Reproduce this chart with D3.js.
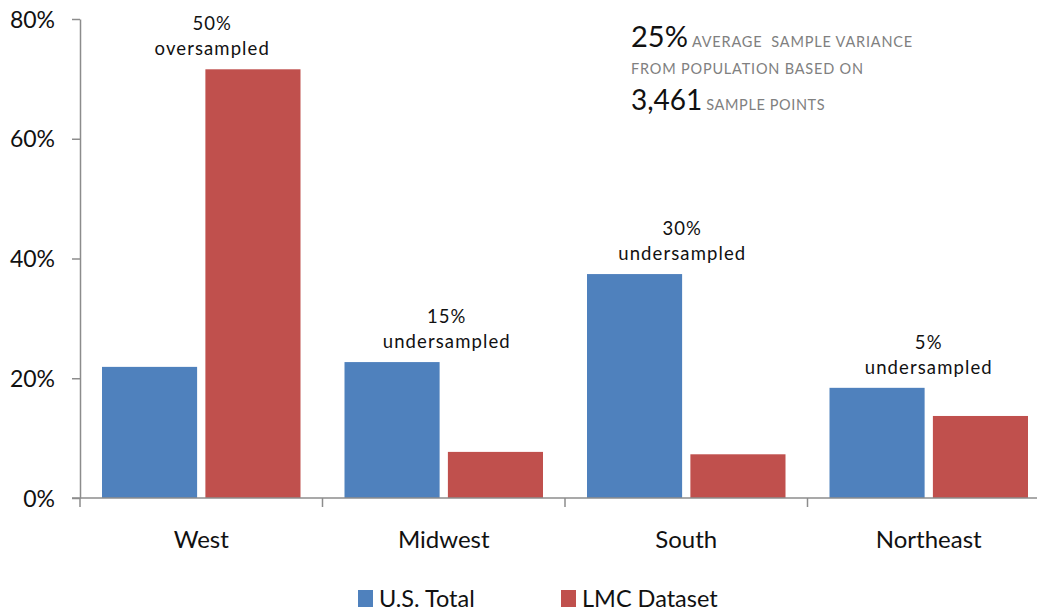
<!DOCTYPE html>
<html>
<head>
<meta charset="utf-8">
<script src="https://cdn.jsdelivr.net/npm/d3@7"></script>
<style>
  html, body { margin: 0; padding: 0; background: #fff; }
  svg { display: block; font-family: Lato, "Open Sans", sans-serif; }
  svg text { white-space: pre; }
</style>
</head>
<body>
<svg id="chart" width="1037" height="613"></svg>
<script>
const categories = ["West", "Midwest", "South", "Northeast"];
const seriesNames = ["U.S. Total", "LMC Dataset"];
const usTotal = [21.9, 22.7, 37.4, 18.4];
const lmcDataset = [71.6, 7.7, 7.3, 13.7];
const annotPct = ["50%", "15%", "30%", "5%"];
const annotText = ["oversampled", "undersampled", "undersampled", "undersampled"];
const yTicks = [0, 20, 40, 60, 80];
const colors = ["#4F81BD", "#C0504D"];

const svg = d3.select("#chart");
const mLeft = 80, mRight = 1050, mTop = 19, mBottom = 498;

const x = d3.scaleBand().domain(categories).range([mLeft, mRight]).paddingInner(0).paddingOuter(0);
const inner = d3.scaleBand().domain(seriesNames).range([22, x.bandwidth() - 22]).paddingInner(0.08);
const y = d3.scaleLinear().domain([0, 80]).range([mBottom, mTop]);

const data = categories.map((c, i) => ({ cat: c, vals: [usTotal[i], lmcDataset[i]] }));

// bars
const g = svg.append("g");
data.forEach(d => {
  d.vals.forEach((v, j) => {
    g.append("rect")
      .attr("x", x(d.cat) + inner(seriesNames[j]))
      .attr("y", y(v))
      .attr("width", inner.bandwidth())
      .attr("height", y(0) - y(v))
      .attr("fill", colors[j]);
  });
});

// y axis
const yAxis = d3.axisLeft(y).tickValues(yTicks).tickFormat(d => d + "%").tickSize(8).tickSizeOuter(0);
const ya = svg.append("g").attr("transform", `translate(${mLeft},0)`).call(yAxis);
ya.select(".domain").attr("stroke", "#8c8c8c").attr("stroke-width", 1.5);
ya.selectAll(".tick line").attr("stroke", "#8c8c8c").attr("stroke-width", 1.5);
ya.selectAll(".tick text").attr("font-size", 23).attr("fill", "#111").attr("x", -25).attr("dy", "0.35em")
  .style("font-family", "Lato, sans-serif");

// x axis line
svg.append("line").attr("x1", 72).attr("x2", 1037).attr("y1", mBottom).attr("y2", mBottom)
  .attr("stroke", "#8c8c8c").attr("stroke-width", 1.5);
// category boundary ticks
categories.forEach(c => {
  svg.append("line").attr("x1", x(c)).attr("x2", x(c)).attr("y1", mBottom).attr("y2", mBottom + 9)
    .attr("stroke", "#8c8c8c").attr("stroke-width", 1.5);
});
// category labels
categories.forEach(c => {
  svg.append("text").attr("x", x(c) + x.bandwidth() / 2).attr("y", 548)
    .attr("text-anchor", "middle").attr("font-size", 24).attr("fill", "#111").text(c);
});

// annotations
const dxs = [11, 3, -4, 0];
data.forEach((d, i) => {
  const cx = x(d.cat) + x.bandwidth() / 2 + dxs[i];
  const topY = y(d3.max(d.vals));
  svg.append("text").attr("x", cx).attr("y", topY - 39).attr("text-anchor", "middle")
    .attr("font-size", 18.5).attr("letter-spacing", 1.1).attr("fill", "#111").text(annotPct[i]);
  svg.append("text").attr("x", cx).attr("y", topY - 14).attr("text-anchor", "middle")
    .attr("font-size", 18.5).attr("letter-spacing", 1.1).attr("fill", "#111").text(annotText[i]);
});

// info block
const info = svg.append("g");
const t1 = info.append("text").attr("x", 631).attr("y", 47);
t1.append("tspan").attr("font-size", 29).attr("fill", "#111").text("25%");
t1.append("tspan").attr("font-size", 14.5).attr("fill", "#808080").attr("dx", 4).attr("letter-spacing", 0.8).text("AVERAGE  SAMPLE VARIANCE");
info.append("text").attr("x", 631).attr("y", 74).attr("font-size", 14.5).attr("fill", "#808080").attr("letter-spacing", 0.8)
  .text("FROM POPULATION BASED ON");
const t3 = info.append("text").attr("x", 631).attr("y", 110);
t3.append("tspan").attr("font-size", 28).attr("fill", "#111").text("3,461");
t3.append("tspan").attr("font-size", 14.5).attr("fill", "#808080").attr("dx", 4).attr("letter-spacing", 0.6).text("SAMPLE POINTS");

// legend
const legX = [358, 561];
seriesNames.forEach((s, j) => {
  svg.append("rect").attr("x", legX[j]).attr("y", 590).attr("width", 15).attr("height", 17).attr("fill", colors[j]);
  svg.append("text").attr("x", legX[j] + 21).attr("y", 607).attr("font-size", 23.5).attr("fill", "#111").text(s);
});
</script>
</body>
</html>
